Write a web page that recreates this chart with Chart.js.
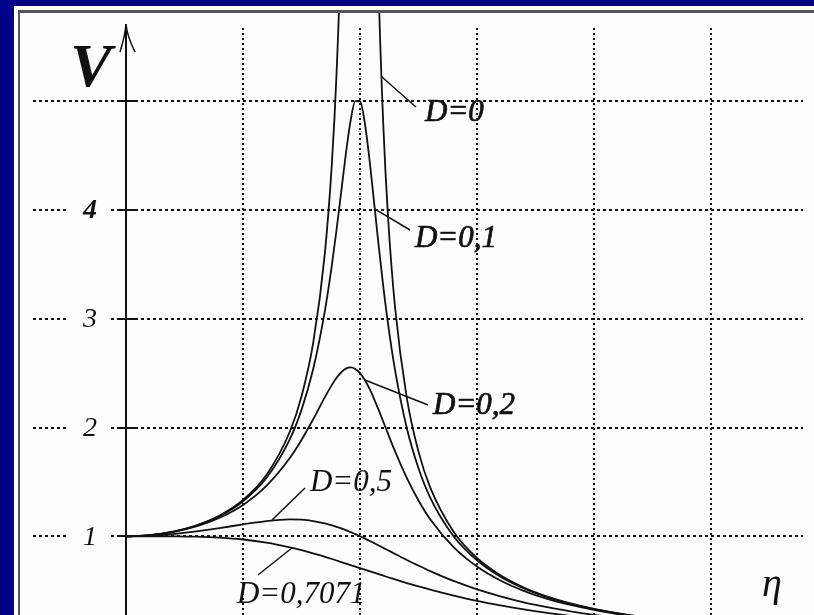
<!DOCTYPE html>
<html>
<head>
<meta charset="utf-8">
<title>V(eta)</title>
<script src="https://cdn.jsdelivr.net/npm/chart.js@4.4.1/dist/chart.umd.min.js"></script>
<style>
  html, body { margin: 0; padding: 0; }
  body { width: 814px; height: 615px; background: #000088; position: relative; overflow: hidden; }
  #panel { position: absolute; left: 14px; top: 6px; right: 0; bottom: 0; background: #fdfdfd; }
  #frame { position: absolute; left: 18px; top: 10px; right: 0; bottom: 0;
           border-top: 3px solid #555; border-left: 2px solid #555; }
  #wrap { position: absolute; left: 0; top: 0; width: 814px; height: 615px; }
</style>
</head>
<body>
<div id="panel"></div>
<div id="frame"></div>
<div id="wrap"><canvas id="chart"></canvas></div>
<script>
// frequency ratio eta, shared by all curves
const eta = [0, 0.1, 0.2, 0.3, 0.4, 0.5, 0.6, 0.7, 0.75, 0.8, 0.85, 0.88, 0.9, 0.92, 0.94, 0.96, 0.98,
  1.0, 1.02, 1.04, 1.06, 1.08, 1.1, 1.12, 1.15, 1.2, 1.25, 1.3, 1.4, 1.5, 1.6, 1.7, 1.8, 1.9,
  2.0, 2.1, 2.2, 2.3, 2.4];

// magnification V
const vD0 = [1, 1.010, 1.042, 1.099, 1.190, 1.333, 1.563, 1.961, 2.286, 2.778, 3.604, 4.433, 5.263, 6.510, 8.59, null, null,
  null, null, null, 8.09, 6.010, 4.762, 3.931, 3.101, 2.273, 1.778, 1.449, 1.042, 0.800, 0.641, 0.529, 0.446, 0.383,
  0.333, 0.293, 0.260, 0.233, 0.210];
const vD01 = [1, 1.010, 1.041, 1.097, 1.185, 1.322, 1.536, 1.891, 2.162, 2.538, 3.073, 3.495, 3.821, 4.172, 4.523, 4.822, 5.001,
  5.000, 4.809, 4.476, 4.075, 3.668, 3.288, 2.950, 2.525, 1.995, 1.625, 1.356, 1.000, 0.778, 0.628, 0.521, 0.441, 0.379,
  0.330, 0.291, 0.259, 0.232, 0.209];
const vD02 = [1, 1.009, 1.038, 1.090, 1.170, 1.288, 1.463, 1.719, 1.885, 2.076, 2.279, 2.392, 2.457, 2.508, 2.541, 2.552, 2.538,
  2.500, 2.439, 2.359, 2.264, 2.160, 2.051, 1.941, 1.780, 1.536, 1.329, 1.157, 0.900, 0.721, 0.593, 0.498, 0.425, 0.368,
  0.322, 0.285, 0.254, 0.228, 0.206];
const vD05 = [1, 1.005, 1.020, 1.044, 1.075, 1.109, 1.140, 1.155, 1.152, 1.140, 1.118, 1.101, 1.087, 1.072, 1.056, 1.038, 1.020,
  1.000, 0.980, 0.959, 0.937, 0.915, 0.893, 0.871, 0.837, 0.782, 0.730, 0.680, 0.589, 0.512, 0.448, 0.393, 0.348, 0.310,
  0.277, 0.250, 0.226, 0.205, 0.188];
const vD07071 = [1, 1.000, 0.999, 0.996, 0.987, 0.970, 0.941, 0.898, 0.872, 0.842, 0.811, 0.791, 0.777, 0.763, 0.749, 0.735, 0.721,
  0.707, 0.693, 0.679, 0.665, 0.651, 0.637, 0.623, 0.603, 0.570, 0.539, 0.509, 0.455, 0.406, 0.364, 0.327, 0.295, 0.267,
  0.243, 0.221, 0.202, 0.186, 0.171];

// grid and tick labels
const xGrid = [0, 0.5, 1, 1.5, 2, 2.5];
const yGrid = [1, 2, 3, 4, 5];
const yLabelValues = [1, 2, 3, 4];
const yLabels = ['1', '2', '3', '4'];

// curve labels: text, text anchor, leader line start (on curve) and end
const curveLabels = [
  { text: 'D=0',      at: [1.278, 4.895], from: [1.094, 5.223], to: [1.239, 4.947], heavy: true },
  { text: 'D=0,1',    at: [1.235, 3.735], from: [1.064, 4.009], to: [1.214, 3.816], heavy: true },
  { text: 'D=0,2',    at: [1.312, 2.200], from: [1.021, 2.437], to: [1.291, 2.207], heavy: true },
  { text: 'D=0,5',    at: [0.786, 1.492], from: [0.624, 1.149], to: [0.765, 1.444], heavy: false },
  { text: 'D=0,7071', at: [0.474, 0.462], from: [0.709, 0.892], to: [0.564, 0.644], heavy: false }
];

const serif = '"Liberation Serif", "Times New Roman", serif';
const ink = '#111';
const paper = '#fdfdfd';

function curve(values) {
  return {
    data: eta.map((e, i) => ({ x: e, y: values[i] })),
    borderColor: ink,
    borderWidth: 1.8,
    pointRadius: 0,
    fill: false,
    spanGaps: false,
    cubicInterpolationMode: 'monotone',
    clip: { left: 0, top: 15, right: 0, bottom: 0 }
  };
}

// axis, arrow, tick labels and curve names
const decor = {
  id: 'decor',
  afterDraw(chart) {
    const { ctx, chartArea, scales: { x, y } } = chart;
    const px = v => x.getPixelForValue(v);
    const py = v => y.getPixelForValue(v);
    const x0 = Math.round(px(0));
    ctx.save();

    // tick labels sit on the dotted lines
    yLabelValues.forEach((v, i) => {
      const lx = px(-0.154);
      const ly = py(v);
      ctx.fillStyle = paper;
      ctx.fillRect(lx - 21, ly - 4, 41, 8);
      ctx.fillStyle = ink;
      ctx.font = (v === 4 ? 'bold ' : '') + 'italic 28px ' + serif;
      ctx.textAlign = 'center';
      ctx.textBaseline = 'middle';
      ctx.fillText(yLabels[i], lx, ly + 1);
    });

    // vertical axis with open arrow
    const tipY = py(5.71);
    ctx.strokeStyle = '#111';
    ctx.lineWidth = 2;
    ctx.beginPath();
    ctx.moveTo(x0, chartArea.bottom);
    ctx.lineTo(x0, tipY);
    ctx.stroke();
    ctx.lineWidth = 1.5;
    ctx.beginPath();
    ctx.moveTo(x0 - 6, tipY + 28);
    ctx.quadraticCurveTo(x0 - 1, tipY + 12, x0, tipY);
    ctx.quadraticCurveTo(x0 + 1, tipY + 12, x0 + 9, tipY + 28);
    ctx.stroke();

    // short solid ticks on the axis
    ctx.lineWidth = 2;
    yGrid.forEach(v => {
      const ty = Math.round(py(v));
      ctx.beginPath();
      ctx.moveTo(x0 - 8, ty);
      ctx.lineTo(x0 + 10, ty);
      ctx.stroke();
    });

    // axis names
    ctx.fillStyle = ink;
    ctx.textAlign = 'center';
    ctx.textBaseline = 'middle';
    ctx.font = 'bold italic 62px ' + serif;
    ctx.fillText('V', px(-0.150), py(5.287));
    ctx.textAlign = 'left';
    ctx.textBaseline = 'alphabetic';
    ctx.font = 'italic 40px ' + serif;
    ctx.fillText('\u03B7', px(2.718), py(0.451));

    // curve names with leader lines
    curveLabels.forEach(l => {
      ctx.strokeStyle = ink;
      ctx.lineWidth = 1.5;
      ctx.beginPath();
      ctx.moveTo(px(l.from[0]), py(l.from[1]));
      ctx.lineTo(px(l.to[0]), py(l.to[1]));
      ctx.stroke();
      ctx.font = 'italic 31px ' + serif;
      ctx.textAlign = 'left';
      ctx.textBaseline = 'middle';
      ctx.fillText(l.text, px(l.at[0]), py(l.at[1]));
      if (l.heavy) {
        ctx.lineWidth = 0.7;
        ctx.strokeText(l.text, px(l.at[0]), py(l.at[1]));
      }
    });
    ctx.restore();
  }
};

new Chart(document.getElementById('chart'), {
  type: 'line',
  data: {
    datasets: [curve(vD0), curve(vD01), curve(vD02), curve(vD05), curve(vD07071)]
  },
  options: {
    responsive: true,
    maintainAspectRatio: false,
    animation: false,
    events: [],
    layout: { padding: { left: 33, right: 11, top: 28, bottom: 0 } },
    plugins: { legend: { display: false }, tooltip: { enabled: false } },
    scales: {
      x: {
        type: 'linear',
        min: -0.3974,
        max: 2.8932,
        afterFit: s => { s.height = 0; },
        afterBuildTicks: s => { s.ticks = xGrid.map(v => ({ value: v })); },
        ticks: { display: false },
        grid: { color: '#111', lineWidth: 2, drawTicks: false },
        border: { display: false, dash: [2, 3] }
      },
      y: {
        type: 'linear',
        min: 0.2759,
        max: 5.6736,
        afterFit: s => { s.width = 0; },
        afterBuildTicks: s => { s.ticks = yGrid.map(v => ({ value: v })); },
        ticks: { display: false },
        grid: { color: '#111', lineWidth: 2, drawTicks: false },
        border: { display: false, dash: [3, 3] }
      }
    }
  },
  plugins: [decor]
});
</script>
</body>
</html>
